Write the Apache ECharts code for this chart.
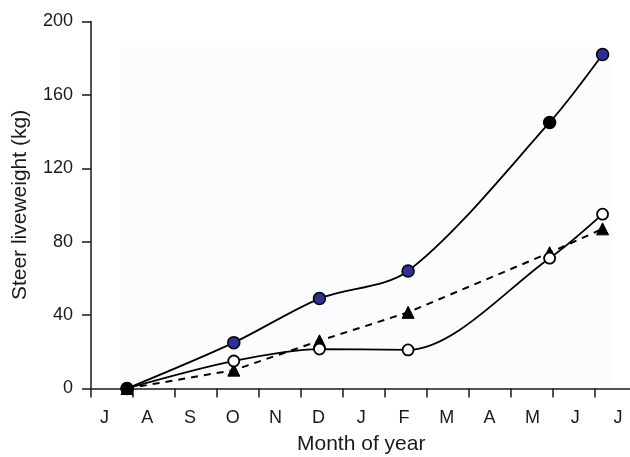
<!DOCTYPE html>
<html>
<head>
<meta charset="utf-8">
<script src="https://cdn.jsdelivr.net/npm/echarts@6/dist/echarts.min.js"></script>
<style>
html,body{margin:0;padding:0;background:#fff;}
#chart{width:630px;height:457px;}
</style>
</head>
<body>
<div id="chart"></div>
<script>
// ---- data ----
var monthLabels = ['J','A','S','O','N','D','J','F','M','A','M','J','J'];
var sampleMonth = [0.857, 3.40, 5.44, 7.55, 10.92, 12.18];   // months since start of July
var weightBlue  = [0, 25, 49, 64, 145, 182];
var weightOpen  = [0, 15, 21.5, 21, 71, 95];
var weightTri   = [0, 10, 26, 41.5, 74, 87];
var yTicks = [0, 40, 80, 120, 160, 200];

function pairs(xs, ys){ return xs.map(function(x,i){ return [x, ys[i]]; }); }

var font = 'Liberation Sans, Arial, Helvetica, sans-serif';
var ink = '#1a1a1a';

var blueData = pairs(sampleMonth, weightBlue).map(function(p, i){
  var fill = '#2e3192';
  if (i === 0 || i === 4) fill = '#000';
  return {value: p, itemStyle: {color: fill, borderColor: '#000', borderWidth: 1.5}};
});
var openData = pairs(sampleMonth, weightOpen).map(function(p, i){
  return {value: p, itemStyle: {color: i === 0 ? '#000' : '#fff', borderColor: '#000', borderWidth: 1.8}};
});

var chart = echarts.init(document.getElementById('chart'), null, {renderer: 'canvas'});
chart.setOption({
  animation: false,
  backgroundColor: '#fff',
  textStyle: {fontFamily: font},
  graphic: [{
    type: 'rect', z: -10, silent: true,
    shape: {x: 120, y: 47, width: 491, height: 341},
    style: {fill: '#fbfcfe'}
  }],
  grid: [
    {left: 91, top: 21.5, width: 546, height: 367, containLabel: false, outerBoundsMode: 'none'},
    {left: 83, top: 21.5, width: 556.4, height: 367, containLabel: false, outerBoundsMode: 'none'}
  ],
  xAxis: [
    {
      type: 'value', gridIndex: 0, min: 0, max: 13, interval: 1,
      axisLine: {show: true, onZero: false, lineStyle: {color: ink, width: 1.5}},
      axisTick: {show: true, inside: false, length: 9, lineStyle: {color: ink, width: 1.5}},
      axisLabel: {show: false},
      splitLine: {show: false}
    },
    {
      type: 'category', gridIndex: 1, data: monthLabels, boundaryGap: true,
      axisLine: {show: false}, axisTick: {show: false}, splitLine: {show: false},
      axisLabel: {show: true, interval: 0, margin: 21, fontSize: 18, color: ink, fontFamily: font},
      name: 'Month of year', nameLocation: 'middle', nameGap: 45,
      nameTextStyle: {fontSize: 21, color: ink, fontFamily: font}
    }
  ],
  yAxis: [
    {
      type: 'value', gridIndex: 0, min: 0, max: 200, interval: 40,
      axisLine: {show: true, lineStyle: {color: ink, width: 1.5}},
      axisTick: {show: true, inside: false, length: 9, lineStyle: {color: ink, width: 1.5}},
      axisLabel: {show: true, margin: 18, fontSize: 18, color: ink, fontFamily: font,
        customValues: yTicks},
      splitLine: {show: false},
      name: 'Steer liveweight (kg)', nameLocation: 'middle', nameGap: 60,
      nameTextStyle: {fontSize: 21, color: ink, fontFamily: font}
    },
    {
      type: 'value', gridIndex: 1, min: 0, max: 200, show: false
    }
  ],
  series: [
    {
      type: 'line', xAxisIndex: 0, yAxisIndex: 0, data: pairs(sampleMonth, weightTri),
      smooth: false, symbol: 'triangle', symbolSize: 12,
      lineStyle: {color: '#000', width: 2, type: [7, 6]},
      itemStyle: {color: '#000', borderColor: '#000', borderWidth: 1},
      z: 2
    },
    {
      type: 'line', xAxisIndex: 0, yAxisIndex: 0, data: openData,
      smooth: 0.3, symbol: 'circle', symbolSize: 11,
      lineStyle: {color: '#000', width: 1.8},
      z: 3
    },
    {
      type: 'line', xAxisIndex: 0, yAxisIndex: 0, data: blueData,
      smooth: 0.3, symbol: 'circle', symbolSize: 12,
      lineStyle: {color: '#000', width: 1.8},
      z: 4
    }
  ]
});
</script>
</body>
</html>
